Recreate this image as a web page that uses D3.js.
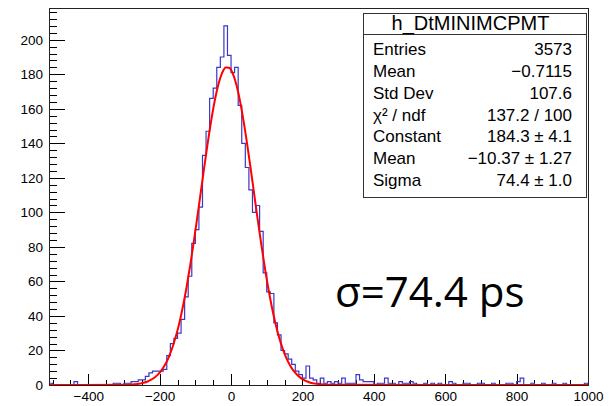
<!DOCTYPE html>
<html>
<head>
<meta charset="utf-8">
<style>
  body { margin: 0; background: #fff; }
  svg { display: block; }
  .axis path { display: none; }
  .axis line { stroke: #000; shape-rendering: crispEdges; }
  .axis text { font-family: "Liberation Sans", Arial, sans-serif; font-size: 13.5px; fill: #000; }
  .stats text { font-family: "Liberation Sans", Arial, sans-serif; font-size: 17px; fill: #000; }
</style>
</head>
<body>
<script src="https://d3js.org/d3.v7.min.js"></script>
<script>

// histogram h_DtMINIMCPMT, 151 bins of width 10 from -510 to 1000
var binLow = d3.range(-510, 1000, 10)
var counts = [
  1, 0, 0, 0, 0, 0, 0, 2, 0, 0,           // -510 .. -420
  0, 0, 0, 0, 0, 0, 0, 0, 1, 1,           // -410 .. -320
  0, 1, 1, 2, 2, 3, 3, 5, 7, 8,           // -310 .. -220
  8, 8, 9, 17, 24, 27, 30, 38, 51, 63,    // -210 .. -120
  82, 90, 103, 133, 147, 166, 172, 184, 190, 208,  // -110 .. -20
  191, 181, 184, 162, 140, 126, 113, 100, 104, 89, // -10 .. 80
  65, 54, 53, 36, 29, 20, 18, 15, 12, 8,  // 90 .. 180
  6, 4, 11, 4, 3, 1, 4, 1, 2, 1,          // 190 .. 280
  2, 1, 4, 1, 1, 1, 6, 3, 2, 2,           // 290 .. 380
  2, 0, 1, 1, 4, 1, 1, 0, 2, 1,           // 390 .. 480
  1, 2, 1, 0, 0, 1, 0, 1, 0, 1,           // 490 .. 580
  0, 0, 2, 1, 0, 0, 1, 1, 0, 0,           // 590 .. 680
  1, 1, 0, 0, 1, 0, 0, 0, 1, 1,           // 690 .. 780
  0, 2, 4, 0, 0, 1, 0, 0, 1, 0,           // 790 .. 880
  0, 1, 0, 0, 1, 0, 0, 0, 0, 0,           // 890 .. 980
  1                                       // 990
]

// gaussian fit curve
var fitX = [-510, -290, -270, -255, -245, -235, -225, -215, -205, -195, -185, -175, -165,
  -155, -145, -135, -125, -115, -105, -95, -85, -75, -65, -55, -45, -35, -25, -15, -5,
  5, 15, 25, 35, 45, 55, 65, 75, 85, 95, 105, 115, 125, 135, 145, 155, 165, 175, 185,
  195, 205, 215, 225, 235, 250, 270, 1000]
var fitY = [0, 0.2, 0.4, 0.8, 1.3, 1.9, 2.9, 4.2, 6.0, 8.5, 11.7, 15.9, 21.3,
  27.9, 35.8, 45.3, 56.2, 68.5, 82.1, 96.5, 111.4, 126.3, 140.7, 153.9, 165.4, 174.5, 180.8, 184.0, 183.8,
  180.4, 173.9, 164.6, 153.0, 139.7, 125.3, 110.3, 95.4, 81.0, 67.6, 55.3, 44.5, 35.2, 27.3, 20.8, 15.6, 11.5, 8.3, 5.9,
  4.1, 2.8, 1.9, 1.2, 0.8, 0.4, 0.1, 0]

var xTicks = [-400, -200, 0, 200, 400, 600, 800, 1000]
var yTicks = [0, 20, 40, 60, 80, 100, 120, 140, 160, 180, 200]

var statsTitle = "h_DtMINIMCPMT"
var statsLabels = ["Entries", "Mean", "Std Dev", "\u03c7\u00b2 / ndf", "Constant", "Mean", "Sigma"]
var statsValues = ["3573", "\u22120.7115", "107.6", "137.2 / 100", "184.3 \u00b1 4.1", "\u221210.37 \u00b1 1.27", "74.4 \u00b1 1.0"]

var note = "\u03c3=74.4 ps"

var W = 609, H = 406
var frame = {left: 49, right: 588, top: 8, bottom: 385}

var x = d3.scaleLinear().domain([-510, 1000]).range([frame.left, frame.right])
var y = d3.scaleLinear().domain([0, 218.4]).range([frame.bottom, frame.top])

var fmt = function(d) { return d < 0 ? "\u2212" + (-d) : String(d) }

var svg = d3.select("body").append("svg")
    .attr("width", W)
    .attr("height", H)

// minor ticks
svg.append("g")
    .attr("class", "axis")
    .attr("transform", "translate(" + frame.left + ",0)")
    .call(d3.axisLeft(y).tickValues(d3.range(0, 218, 4)).tickSize(-8).tickFormat(""))

svg.append("g")
    .attr("class", "axis")
    .attr("transform", "translate(0," + frame.bottom + ")")
    .call(d3.axisBottom(x).tickValues(d3.range(-500, 1001, 50)).tickSize(-5.5).tickFormat(""))

// major ticks + labels
svg.append("g")
    .attr("class", "axis")
    .attr("transform", "translate(" + frame.left + ",0)")
    .call(d3.axisLeft(y).tickValues(yTicks).tickSizeInner(-16).tickSizeOuter(0).tickPadding(6).tickFormat(fmt))

svg.append("g")
    .attr("class", "axis")
    .attr("transform", "translate(0," + frame.bottom + ")")
    .call(d3.axisBottom(x).tickValues(xTicks).tickSizeInner(-11).tickSizeOuter(0).tickPadding(6).tickFormat(fmt))

svg.append("clipPath").attr("id", "clip")
  .append("rect")
    .attr("x", frame.left).attr("y", frame.top)
    .attr("width", frame.right - frame.left).attr("height", frame.bottom - frame.top)

// histogram outline
var pts = [[x(binLow[0]), y(0)]]
binLow.forEach(function(lo, i) {
  pts.push([x(lo), y(counts[i])])
  pts.push([x(lo + 10), y(counts[i])])
})
pts.push([x(binLow[binLow.length - 1] + 10), y(0)])

svg.append("path")
    .attr("clip-path", "url(#clip)")
    .attr("d", d3.line()(pts))
    .attr("fill", "none")
    .attr("stroke", "#3838c8")
    .attr("stroke-width", 1.2)

// fit
svg.append("path")
    .attr("clip-path", "url(#clip)")
    .attr("d", d3.line()
        .x(function(d) { return x(d) })
        .y(function(d, i) { return y(fitY[i]) })
        .curve(d3.curveMonotoneX)(fitX))
    .attr("fill", "none")
    .attr("stroke", "#ff0000")
    .attr("stroke-width", 2)

// frame
svg.append("rect")
    .attr("x", frame.left).attr("y", frame.top)
    .attr("width", frame.right - frame.left).attr("height", frame.bottom - frame.top)
    .attr("fill", "none")
    .attr("stroke", "#222")
    .attr("shape-rendering", "crispEdges")

// stats box
var box = {left: 363, right: 586, top: 13, bottom: 197, sep: 34}
var stats = svg.append("g").attr("class", "stats")

stats.append("rect")
    .attr("x", box.left).attr("y", box.top)
    .attr("width", box.right - box.left).attr("height", box.bottom - box.top)
    .attr("fill", "#fff")
    .attr("stroke", "#333")
    .attr("shape-rendering", "crispEdges")

stats.append("line")
    .attr("x1", box.left).attr("x2", box.right)
    .attr("y1", box.sep).attr("y2", box.sep)
    .attr("stroke", "#333")
    .attr("shape-rendering", "crispEdges")

stats.append("text")
    .attr("x", (box.left + box.right) / 2 - 4)
    .attr("y", 30)
    .attr("text-anchor", "middle")
    .style("font-size", "20px")
    .text(statsTitle)

var rowY = d3.scaleLinear().domain([0, statsLabels.length - 1]).range([55, 186])

stats.selectAll(".lbl")
    .data(statsLabels)
  .enter().append("text")
    .attr("class", "lbl")
    .attr("x", 373)
    .attr("y", function(d, i) { return rowY(i) })
    .text(function(d) { return d })

stats.selectAll(".val")
    .data(statsValues)
  .enter().append("text")
    .attr("class", "val")
    .attr("x", 572)
    .attr("y", function(d, i) { return rowY(i) })
    .attr("text-anchor", "end")
    .text(function(d) { return d })

svg.append("text")
    .attr("x", 335)
    .attr("y", 307)
    .style("font-family", "'Open Sans', sans-serif")
    .style("font-size", "42px")
    .style("fill", "#000")
    .text(note)

</script>
</body>
</html>
